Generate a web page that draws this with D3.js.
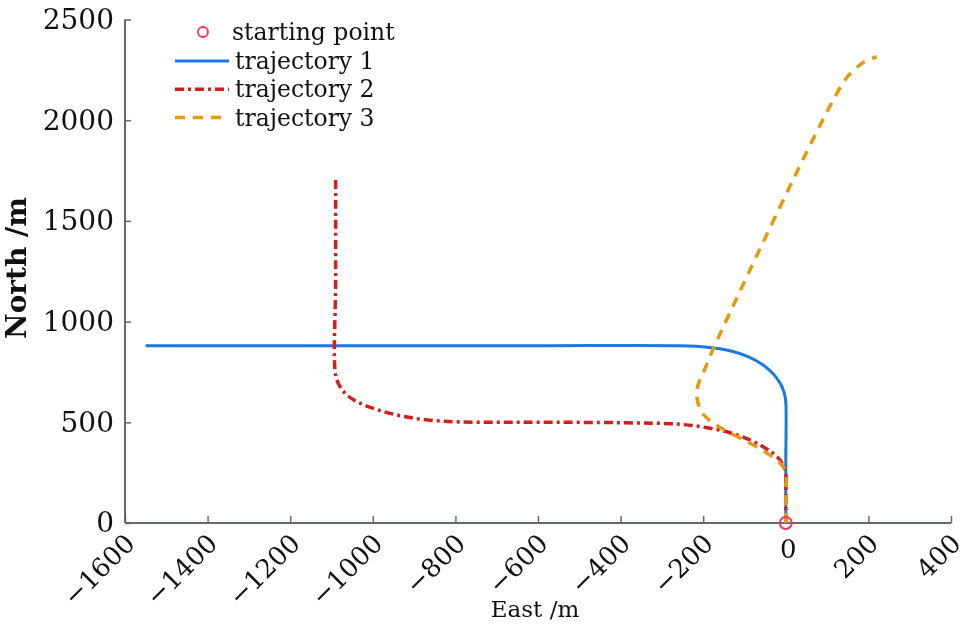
<!DOCTYPE html>
<html><head><meta charset="utf-8">
<script src="https://cdn.jsdelivr.net/npm/d3@7"></script>
<style>body{margin:0;background:#fff}svg{display:block;will-change:transform}svg text{font-family:"DejaVu Serif","Liberation Serif","Noto Serif",serif !important;fill:#111}</style>
</head><body><svg id="c" width="968" height="624"></svg>
<script>
const xTicks = [-1600,-1400,-1200,-1000,-800,-600,-400,-200,0,200,400];
const yTicks = [0,500,1000,1500,2000,2500];
const seriesNames = ["trajectory 1","trajectory 2","trajectory 3"];
const startPoint = [0,0];
const traj1East  = [0,0,0,-3,-8,-14,-30,-55,-90,-135,-190,-265,-600,-1000,-1550];
const traj1North = [0,300,600,640,670,695,740,785,825,855,873,880,880,880,880];
const traj2East  = [0,0,0,-5,-14,-30,-55,-90,-135,-190,-256,-400,-600,-700,-790,-850,-900,-945,-985,-1020,-1045,-1065,-1080,-1090,-1090,-1090];
const traj2North = [0,150,250,280,313,345,379,415,448,473,490,498,500,500,502,508,520,538,560,585,610,640,680,735,1200,1720];
const traj3East  = [0,0,0,-14,-46,-87,-135,-176,-200,-210,-216,-210,-197,-177,140,164,190,220];
const traj3North = [0,150,255,298,347,397,447,497,540,578,645,700,760,859,2190,2246,2290,2315];

const svg = d3.select("#c");
const x = d3.scaleLinear().domain([-1600,400]).range([125,951]);
const y = d3.scaleLinear().domain([0,2500]).range([523,19.5]);
const axisColor = "#5f6b73";

// axes
const gx = svg.append("g").attr("transform",`translate(0,${y(0)})`)
  .call(d3.axisBottom(x).tickValues(xTicks).tickSize(-7).tickFormat(d=>String(d).replace("-","\u2212")));
gx.attr("font-family",null);
gx.select(".domain").attr("stroke",axisColor).attr("stroke-width",2).attr("d",`M${x(-1600)},0H${x(400)}`);
gx.selectAll(".tick line").attr("stroke",axisColor).attr("stroke-width",1.5);
gx.selectAll(".tick text").attr("font-size",26).attr("fill","#111")
  .attr("dy",null).attr("y",null).attr("dominant-baseline","middle")
  .attr("text-anchor",d=>d===0?"middle":"end")
  .attr("transform",d=>d===0?"translate(2,28)":"translate(6,17) rotate(-45)");

const gy = svg.append("g").attr("transform",`translate(${x(-1600)},0)`)
  .call(d3.axisLeft(y).tickValues(yTicks).tickSize(-6).tickPadding(11).tickFormat(d=>String(d)));
gy.attr("font-family",null);
gy.select(".domain").attr("stroke",axisColor).attr("stroke-width",2).attr("d",`M0,${y(2500)}V${y(0)}`);
gy.selectAll(".tick line").attr("stroke",axisColor).attr("stroke-width",1.5);
gy.selectAll(".tick text").attr("font-size",28).attr("fill","#111");

// axis titles
svg.append("text").attr("x",535).attr("y",617).attr("text-anchor","middle").attr("font-size",23).text("East /m");
svg.append("text").attr("transform","translate(26,268) rotate(-90)").attr("text-anchor","middle")
  .attr("font-size",28).attr("font-weight","bold").text("North /m");

// lines
const line = d3.line().x(d=>x(d[0])).y(d=>y(d[1])).curve(d3.curveCatmullRom.alpha(0.5));
const styles = [
  {color:"#1a78e6", dash:null, w:3},
  {color:"#d71c1c", dash:"9,4,3,4", w:3.5},
  {color:"#e39a0e", dash:"10,8", w:3.5}
];
const data = [
  d3.zip(traj1East, traj1North),
  d3.zip(traj2East, traj2North),
  d3.zip(traj3East, traj3North)
];
data.forEach((pts,i)=>{
  svg.append("path").attr("d",line(pts)).attr("fill","none")
    .attr("stroke",styles[i].color).attr("stroke-width",styles[i].w)
    .attr("stroke-dasharray",styles[i].dash);
});
svg.append("circle").attr("cx",x(startPoint[0])).attr("cy",y(startPoint[1])).attr("r",6)
  .attr("fill","none").attr("stroke","#ee3355").attr("stroke-width",1.8);

// legend
const lg = svg.append("g");
lg.append("circle").attr("cx",203).attr("cy",32).attr("r",5).attr("fill","none").attr("stroke","#ee3355").attr("stroke-width",1.8);
lg.append("text").attr("x",232).attr("y",32).attr("dominant-baseline","central").attr("font-size",23.5).text("starting point");
seriesNames.forEach((n,i)=>{
  const yy = 61 + i*28.3;
  lg.append("line").attr("x1",175).attr("x2",229).attr("y1",yy).attr("y2",yy)
    .attr("stroke",styles[i].color).attr("stroke-width",styles[i].w).attr("stroke-dasharray",styles[i].dash);
  lg.append("text").attr("x",235).attr("y",yy).attr("dominant-baseline","central").attr("font-size",23.5).text(n);
});
</script></body></html>
